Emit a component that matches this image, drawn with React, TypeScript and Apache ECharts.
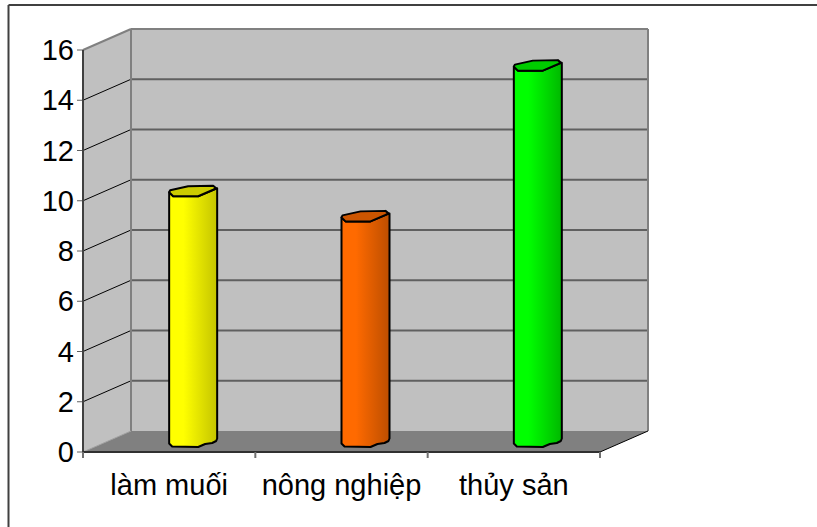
import React, { useEffect, useRef } from "react";
import * as echarts from "echarts";

const categories = ["làm muối", "nông nghiệp", "thủy sản"];
const values = [10, 9, 15];
const bodyColors = [
  ["#FFFF00", "#C4C400"],
  ["#FF6A00", "#BC4E00"],
  ["#00FF00", "#00B800"],
];
const lidColors = ["#CCCC00", "#CC5500", "#00CC00"];
const yTicks = [0, 2, 4, 6, 8, 10, 12, 14, 16];

// Depth of the pseudo-3D box, in pixels
const DX = 48;
const DY = -21;

const poly = (points: number[][], style: any, z2 = 0) => ({
  type: "polygon",
  z2,
  shape: { points },
  style,
});
const seg = (a: number[], b: number[], stroke: string, lineWidth: number, z2 = 1) => ({
  type: "line",
  z2,
  shape: { x1: a[0], y1: a[1], x2: b[0], y2: b[1] },
  style: { stroke, lineWidth },
});

// Walls, floor and gridlines of the box
function renderBox(_: any, api: any) {
  const band = api.size([1, 0])[0];
  const left = api.coord(["làm muối", 0])[0] - band / 2;
  const right = left + band * categories.length;
  const y0 = api.coord(["làm muối", 0])[1];
  const yMax = api.coord(["làm muối", 16])[1];
  const children: any[] = [
    poly([[left + DX, yMax + DY], [right + DX, yMax + DY], [right + DX, y0 + DY], [left + DX, y0 + DY]], { fill: "#C0C0C0" }),
    poly([[left, yMax], [left + DX, yMax + DY], [left + DX, y0 + DY], [left, y0]], { fill: "#C0C0C0" }),
    poly([[left, y0], [left + DX, y0 + DY], [right + DX, y0 + DY], [right, y0]], { fill: "#808080" }),
  ];
  yTicks.forEach((t) => {
    const y = api.coord(["làm muối", t])[1];
    if (t > 0 && t < 16) {
      children.push(seg([left, y], [left + DX, y + DY], "#000000", 1));
      children.push(seg([left + DX, y + DY], [right + DX, y + DY], "#606060", 2));
    }
    children.push(seg([left - 6, y], [left, y], "#606060", 1, 2));
  });
  children.push(seg([left, yMax], [left + DX, yMax + DY], "#808080", 2));
  children.push(seg([left + DX, yMax + DY], [right + DX, yMax + DY], "#808080", 2));
  children.push(seg([right + DX, yMax + DY], [right + DX, y0 + DY], "#808080", 2));
  children.push(seg([left + DX, yMax + DY], [left + DX, y0 + DY], "#808080", 2));
  children.push(seg([left + DX, y0 + DY], [left, y0], "#A0A0A0", 1));
  children.push(seg([right, y0], [right + DX, y0 + DY], "#000000", 1));
  children.push(seg([left, yMax], [left, y0], "#404040", 2, 2));
  children.push(seg([left, y0], [right, y0], "#303030", 2, 2));
  for (let i = 0; i <= categories.length; i++) {
    const x = left + band * i;
    children.push(seg([x, y0], [x, y0 + 6], "#707070", 2, 2));
  }
  return { type: "group", children };
}

// One hand-drawn looking cylinder, standing half way into the box
function renderBar(params: any, api: any) {
  const i = api.value(0);
  const v = api.value(1);
  const [cxFront, yFront] = api.coord([i, v]);
  const y0 = api.coord([i, 0])[1];
  const cx = cxFront + DX / 2;
  const top = yFront + DY / 2;
  const base = y0 + DY / 2;
  const l = cx - 24;
  const r = cx + 24;
  const stroke = { stroke: "#000000", lineWidth: 2, lineJoin: "round" };
  const body = [
    [l, top + 2], [l, base + 2], [l + 3, base + 5], [l + 29, base + 5.5], [l + 36, base + 2.5],
    [l + 43, base + 1.5], [r - 1, base - 0.5], [r, base - 3], [r, top - 2],
    [r - 19, top + 6], [l + 4, top + 6],
  ];
  const lid = [
    [l, top + 2], [l + 1, top], [l + 10, top - 2], [l + 19, top - 4], [r - 4, top - 4.5],
    [r - 1, top - 2], [r - 4, top - 0.5], [r - 19, top + 6], [l + 4, top + 6],
  ];
  return {
    type: "group",
    children: [
      poly(body, {
        fill: new echarts.graphic.LinearGradient(0, 0, 1, 0, [
          { offset: 0, color: bodyColors[i][0] },
          { offset: 0.3, color: bodyColors[i][0] },
          { offset: 1, color: bodyColors[i][1] },
        ]),
        ...stroke,
      }, 3),
      poly(lid, { fill: lidColors[i], ...stroke }, 4),
    ],
  };
}

export default function App() {
  const ref = useRef<HTMLDivElement>(null);
  useEffect(() => {
    const chart = echarts.init(ref.current!, null, { renderer: "svg" });
    chart.setOption({
      animation: false,
      backgroundColor: "#FFFFFF",
      textStyle: { fontFamily: "Liberation Sans" },
      grid: { left: 83, top: 50, width: 517, height: 402 },
      xAxis: {
        type: "category",
        data: categories,
        axisLine: { show: false },
        axisTick: { show: false },
        axisLabel: { color: "#000000", fontSize: 29, margin: 18, interval: 0, fontFamily: "Liberation Sans" },
      },
      yAxis: {
        type: "value",
        min: 0,
        max: 16,
        interval: 2,
        axisLine: { show: false },
        axisTick: { show: false },
        splitLine: { show: false },
        axisLabel: { color: "#000000", fontSize: 29, margin: 9, padding: [3, 0, 0, 0], fontFamily: "Liberation Sans" },
      },
      series: [
        {
          type: "custom",
          coordinateSystem: "cartesian2d",
          renderItem: renderBox,
          data: [[0, 0]],
          silent: true,
          clip: false,
          z: 1,
        },
        {
          type: "custom",
          coordinateSystem: "cartesian2d",
          renderItem: renderBar,
          data: values.map((v, i) => [i, v]),
          encode: { x: 0, y: 1 },
          clip: false,
          z: 2,
        },
      ],
      // Frame along the top and left edges of the page only
      graphic: [
        {
          type: "line",
          silent: true,
          shape: { x1: 8.5, y1: 5, x2: 817, y2: 5 },
          style: { stroke: "#404040", lineWidth: 2 },
        },
        {
          type: "line",
          silent: true,
          shape: { x1: 8.5, y1: 5, x2: 8.5, y2: 527 },
          style: { stroke: "#404040", lineWidth: 2 },
        },
      ],
    });
    return () => chart.dispose();
  }, []);
  return <div ref={ref} style={{ width: 817, height: 527, position: "fixed", left: 0, top: 0 }} />;
}
